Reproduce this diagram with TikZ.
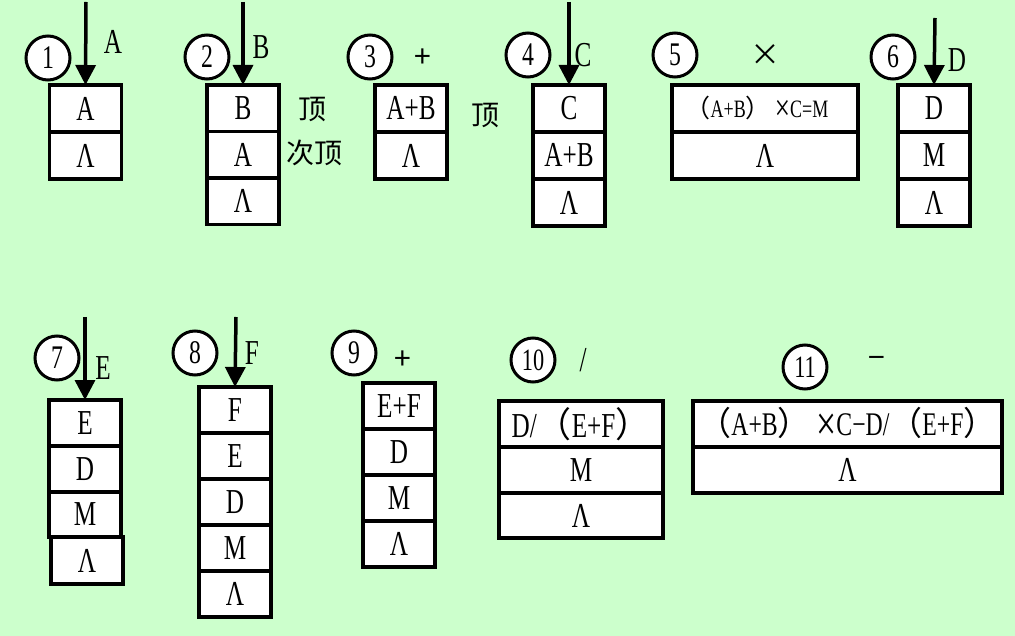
\documentclass[tikz,border=0pt]{standalone}
\usepackage{graphicx}
\usepackage{fontspec}
\setmainfont[FakeStretch=0.72]{Liberation Serif}
\newfontfamily\cjk{Noto Sans CJK SC}
\usetikzlibrary{positioning}
\usetikzlibrary{arrows.meta}
\definecolor{bggreen}{HTML}{CCFFCC}
\newcommand{\zl}{{\cjk （}}
\newcommand{\zr}{{\cjk ）}}
\newcommand{\zx}{\,\raisebox{-0.13em}{\scalebox{1.5}{×}}}

\begin{document}
\begin{tikzpicture}[x=1pt,y=-1pt,
    cell/.style={draw,fill=white,line width=3.5pt,outer sep=0pt,inner sep=0pt,
      minimum width=72pt,minimum height=47pt,font=\fontsize{35}{35}\selectfont},
    num/.style={draw,fill=white,circle,line width=3pt,inner sep=0pt,
      minimum size=44pt,font=\fontsize{33}{33}\selectfont},
    lab/.style={font=\fontsize{35}{35}\selectfont},
    sym/.style={font=\fontsize{30}{30}\cjk},
    zh/.style={font=\fontsize{28}{28}\cjk},
    push/.style={line width=3.5pt,-{Triangle[length=20pt,width=20pt]}}]
    \fill[bggreen] (0,0) rectangle (1015,636);
    % top row
    \node[cell,anchor=north] (s1a) at (85.5,85) {A};
    \node[cell,below=0pt of s1a] (s1b) {Λ};
    \node[num] (n1) at (48,58) {1};
    \coordinate (p1) at (86,2);
    \draw[push] (p1) -- (s1a.north);
    \node[lab] (l1) at (113,42) {A};

    \node[cell,anchor=north,minimum height=46.5pt] (s2a) at (243,85) {B};
    \node[cell,below=0pt of s2a,minimum height=46.5pt] (s2b) {A};
    \node[cell,below=0pt of s2b,minimum height=46.5pt] (s2c) {Λ};
    \node[num] (n2) at (207,57) {2};
    \coordinate (p2) at (243,2);
    \draw[push] (p2) -- (s2a.north);
    \node[lab] (l2) at (261,47) {B};
    \node[zh] (t2) at (312,110) {顶};
    \node[zh] (u2) at (314,153) {次顶};

    \node[cell,anchor=north] (s3a) at (411,85) {A+B};
    \node[cell,below=0pt of s3a] (s3b) {Λ};
    \node[num] (n3) at (370,57) {3};
    \node[sym] (l3) at (423,58) {+};
    \node[zh] (t3) at (485,116) {顶};

    \node[cell,anchor=north] (s4a) at (569,85) {C};
    \node[cell,below=0pt of s4a] (s4b) {A+B};
    \node[cell,below=0pt of s4b] (s4c) {Λ};
    \node[num] (n4) at (528,55) {4};
    \coordinate (p4) at (569,2);
    \draw[push] (p4) -- (s4a.north);
    \node[lab] (l4) at (583,55) {C};

    \node[cell,anchor=north,minimum width=186pt,font=\fontsize{25}{25}\selectfont] (s5a) at (765,85) {\zl A+B\zr\zx C=M\hspace*{16pt}};
    \node[cell,below=0pt of s5a,minimum width=186pt] (s5b) {Λ};
    \node[num] (n5) at (675,55) {5};
    \node[sym] (l5) at (765,55) {×};

    \node[cell,anchor=north] (s6a) at (934,85) {D};
    \node[cell,below=0pt of s6a] (s6b) {M};
    \node[cell,below=0pt of s6b] (s6c) {Λ};
    \node[num] (n6) at (893,57) {6};
    \coordinate (p6) at (935,18);
    \draw[push] (p6) -- (s6a.north);
    \node[lab] (l6) at (957,60) {D};

    % bottom row
    \node[cell,anchor=north,minimum height=46pt] (s7a) at (85,400) {E};
    \node[cell,below=0pt of s7a,minimum height=46pt] (s7b) {D};
    \node[cell,below=0pt of s7b,minimum height=45pt] (s7c) {M};
    \node[cell,below=0pt of s7c,xshift=2pt,minimum height=47pt] (s7d) {Λ};
    \node[num] (n7) at (57,358) {7};
    \coordinate (p7) at (85,317);
    \draw[push] (p7) -- (s7a.north);
    \node[lab] (l7) at (103,368) {E};

    \node[cell,anchor=north,minimum height=46pt] (s8a) at (235,387) {F};
    \node[cell,below=0pt of s8a,minimum height=46pt] (s8b) {E};
    \node[cell,below=0pt of s8b,minimum height=46pt] (s8c) {D};
    \node[cell,below=0pt of s8c,minimum height=46pt] (s8d) {M};
    \node[cell,below=0pt of s8d,minimum height=46pt] (s8e) {Λ};
    \node[num] (n8) at (195,353) {8};
    \coordinate (p8) at (236,317);
    \draw[push] (p8) -- (s8a.north);
    \node[lab] (l8) at (252,353) {F};

    \node[cell,anchor=north,minimum height=46pt] (s9a) at (399,383) {E+F};
    \node[cell,below=0pt of s9a,minimum height=46pt] (s9b) {D};
    \node[cell,below=0pt of s9b,minimum height=46pt] (s9c) {M};
    \node[cell,below=0pt of s9c,minimum height=46pt] (s9d) {Λ};
    \node[num] (n9) at (354,353) {9};
    \node[sym] (l9) at (403,360) {+};

    \node[cell,anchor=north,minimum width=164pt,minimum height=46pt] (s10a) at (581,401) {D/\zl E+F\zr};
    \node[cell,below=0pt of s10a,minimum width=164pt,minimum height=46pt] (s10b) {M};
    \node[cell,below=0pt of s10b,minimum width=164pt,minimum height=45pt] (s10c) {Λ};
    \node[num,font=\fontsize{31}{31}\selectfont] (n10) at (533,360) {10};
    \node[lab] (l10) at (583,360) {/};

    \node[cell,anchor=north,minimum width=309pt,minimum height=46pt,text width=309pt,align=center,font=\fontsize{33}{33}\selectfont] (s11a) at (847.5,401) {\zl A+B\zr\zx C−D/\zl E+F\zr};
    \node[cell,below=0pt of s11a,minimum width=309pt,minimum height=46pt] (s11b) {Λ};
    \node[num,font=\fontsize{31}{31}\selectfont] (n11) at (805,367) {11};
    \node[sym] (l11) at (877,362) {−};
\end{tikzpicture}
\end{document}
